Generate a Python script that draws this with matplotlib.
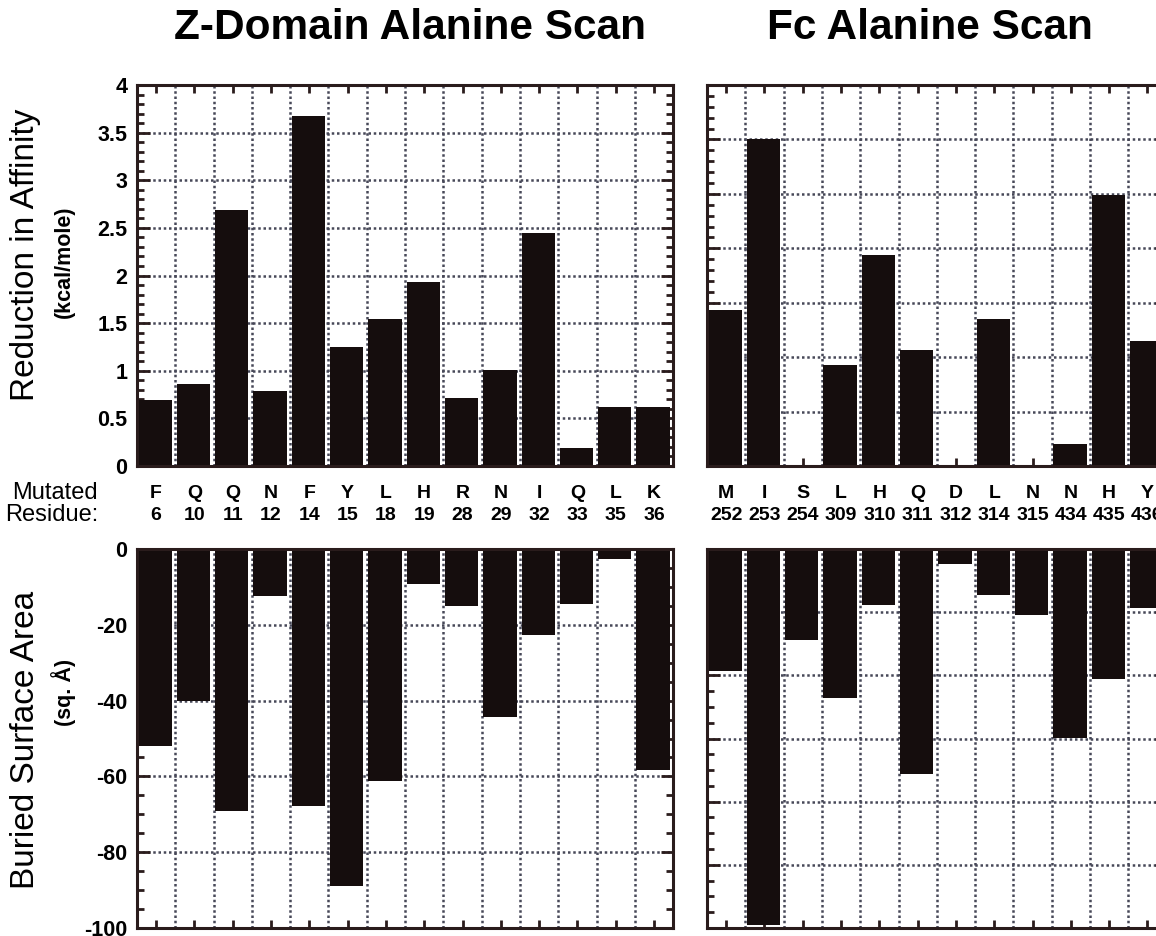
import numpy as np
import matplotlib
matplotlib.use("Agg")
import matplotlib.pyplot as plt
from matplotlib.ticker import MultipleLocator
import matplotlib.transforms as mtransforms

# ---------------- data ----------------
z_residues = ["F", "Q", "Q", "N", "F", "Y", "L", "H", "R", "N", "I", "Q", "L", "K"]
z_numbers = ["6", "10", "11", "12", "14", "15", "18", "19", "28", "29", "32", "33", "35", "36"]
z_affinity = [0.69, 0.86, 2.69, 0.79, 3.67, 1.25, 1.54, 1.93, 0.71, 1.01, 2.45, 0.19, 0.62, 0.62]
z_buried = [-51.9, -40.0, -69.0, -12.3, -67.7, -89.0, -61.1, -9.2, -15.1, -44.4, -22.6, -14.6, -2.6, -58.2]

fc_residues = ["M", "I", "S", "L", "H", "Q", "D", "L", "N", "N", "H", "Y"]
fc_numbers = ["252", "253", "254", "309", "310", "311", "312", "314", "315", "434", "435", "436"]
fc_affinity = [1.43, 3.00, 0.0, 0.93, 1.94, 1.07, 0.0, 1.35, 0.0, 0.20, 2.49, 1.15]
fc_buried = [-38.6, -119.2, -28.9, -47.3, -17.6, -71.1, -4.7, -14.7, -21.0, -59.7, -41.1, -18.6]

titles = ["Z-Domain Alanine Scan", "Fc Alanine Scan"]

# ---------------- style ----------------
plt.rcParams['font.family'] = ['Liberation Sans', 'DejaVu Sans']
W, H = 1156, 936
fig = plt.figure(figsize=(W / 100, H / 100), dpi=100)

SPINE = '#2a1c1c'
BAR = '#150d0d'
GRID = '#474858'

def fx(px):
    return px / W

def fy(py):
    return 1 - py / H

slot = 38.3
lx0 = 137
rx0 = 707
top_t, top_b = 85, 466
bot_t, bot_b = 549, 928

def make_ax(x0, n, ytop, ybot):
    return fig.add_axes([fx(x0), fy(ybot), (n * slot) / W, (ybot - ytop) / H])

def ylabel_fmt(v, pos):
    if abs(v - round(v)) < 1e-9:
        return f"{int(round(v))}"
    return f"{v:g}"

def style(ax, n, ylim, major, minor, labels):
    ax.set_xlim(0, n)
    ax.set_ylim(*ylim)
    ax.set_axisbelow(True)
    ax.set_xticks(np.arange(n + 1))
    ax.set_xticks(np.arange(n) + 0.5, minor=True)
    ax.yaxis.set_major_locator(MultipleLocator(major))
    ax.yaxis.set_minor_locator(MultipleLocator(minor))
    ax.yaxis.set_major_formatter(plt.FuncFormatter(ylabel_fmt))
    ax.grid(True, which='major', color=GRID, linestyle=(0, (1, 1.1)), linewidth=1.8)
    ax.tick_params(axis='both', which='both', direction='in', top=True, right=True,
                   color=SPINE, width=2)
    ax.tick_params(axis='x', which='major', length=0, labelbottom=False)
    ax.tick_params(axis='x', which='minor', length=6, labelbottom=False)
    ax.tick_params(axis='y', which='major', length=9, pad=7,
                   labelsize=15.5, labelleft=labels)
    ax.tick_params(axis='y', which='minor', length=5)
    for lab in ax.get_yticklabels():
        lab.set_fontweight('bold')
    for s in ax.spines.values():
        s.set_color(SPINE)
        s.set_linewidth(2.2)

# top-left
x = np.arange(len(z_residues))
ax1 = make_ax(lx0, len(z_residues), top_t, top_b)
ax1.bar(x + 0.04, z_affinity, width=0.87, align='edge', color=BAR, zorder=2)
style(ax1, len(z_residues), (0, 4), 0.5, 0.1, True)

# bottom-left
ax2 = make_ax(lx0, len(z_residues), bot_t, bot_b)
ax2.bar(x + 0.04, z_buried, width=0.87, align='edge', color=BAR, zorder=2)
style(ax2, len(z_residues), (-100, 0), 20, 5, True)

# top-right
xr = np.arange(len(fc_residues))
ax3 = make_ax(rx0, len(fc_residues), top_t, top_b)
ax3.bar(xr + 0.04, fc_affinity, width=0.87, align='edge', color=BAR, zorder=2)
style(ax3, len(fc_residues), (0, 3.5), 0.5, 0.1, False)

# bottom-right
ax4 = make_ax(rx0, len(fc_residues), bot_t, bot_b)
ax4.bar(xr + 0.04, fc_buried, width=0.87, align='edge', color=BAR, zorder=2)
style(ax4, len(fc_residues), (-120, 0), 20, 5, False)

# residue labels
for ax, res, nums in [(ax1, z_residues, z_numbers), (ax3, fc_residues, fc_numbers)]:
    trans = mtransforms.blended_transform_factory(ax.transData, fig.transFigure)
    for i, (r, nlab) in enumerate(zip(res, nums)):
        ax.text(i + 0.5, fy(493), r, transform=trans, ha='center', va='center',
                fontsize=14, fontweight='bold', color='black', clip_on=False)
        ax.text(i + 0.5, fy(515), nlab, transform=trans, ha='center', va='center',
                fontsize=14, fontweight='bold', color='black', clip_on=False)

fig.text(fx(98), fy(493), "Mutated", ha='right', va='center', fontsize=17)
fig.text(fx(98), fy(515), "Residue:", ha='right', va='center', fontsize=17)

# titles
fig.text(fx(410), fy(28), titles[0], ha='center', va='center',
         fontsize=30.5, fontweight='bold')
fig.text(fx(930), fy(28), titles[1], ha='center', va='center',
         fontsize=30.5, fontweight='bold')

# y labels
fig.text(fx(26), fy(255), "Reduction in Affinity", rotation=90, ha='center', va='center',
         fontsize=24)
fig.text(fx(64), fy(262), "(kcal/mole)", rotation=90, ha='center', va='center',
         fontsize=15.5, fontweight='bold')
fig.text(fx(26), fy(740), "Buried Surface Area", rotation=90, ha='center', va='center',
         fontsize=24)
fig.text(fx(64), fy(692), "(sq. Å)", rotation=90, ha='center', va='center',
         fontsize=15.5, fontweight='bold')

fig.savefig("out.png", dpi=100, facecolor='white')
